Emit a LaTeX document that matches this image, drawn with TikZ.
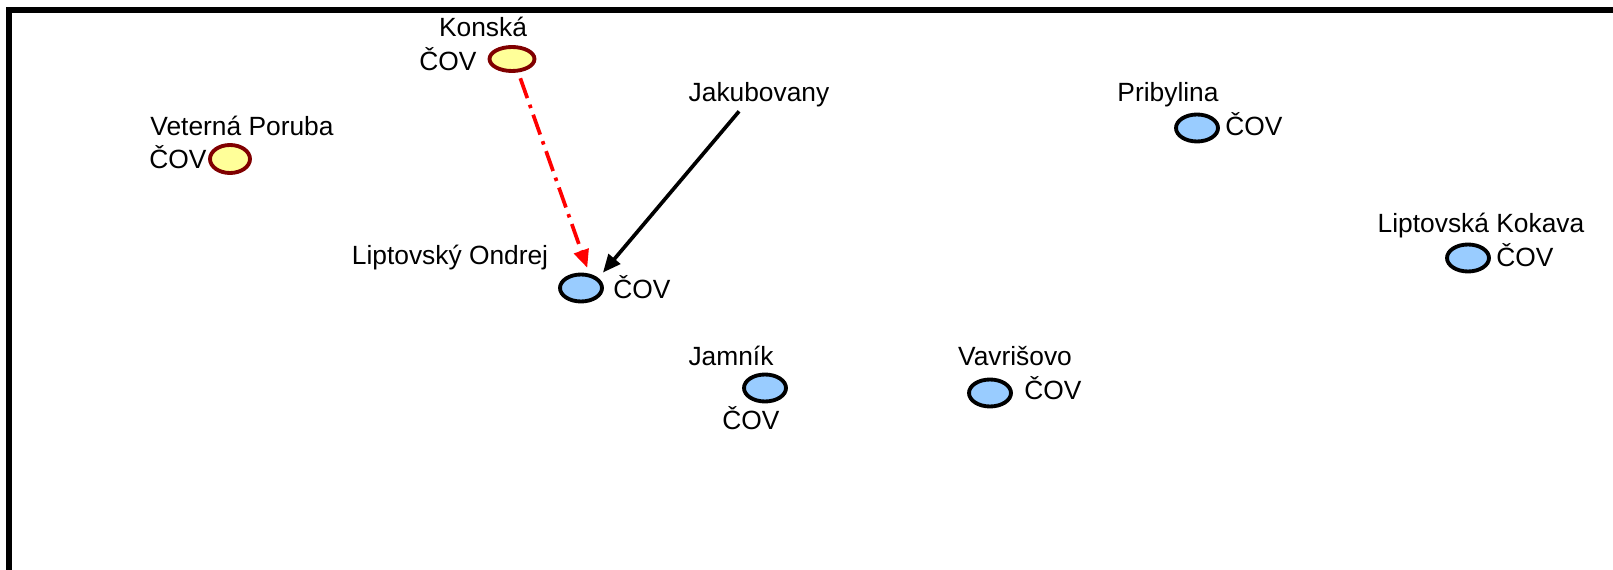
\documentclass[tikz,border=0pt]{standalone}
\usepackage{fontspec}
\setmainfont{Liberation Sans}
\usepackage{tikz}
\usetikzlibrary{shapes.geometric,arrows.meta}
\definecolor{covblue}{HTML}{99CCFF}
\definecolor{covyellow}{HTML}{FFFF99}
\definecolor{covrim}{HTML}{800000}
\tikzset{
  obec/.style={anchor=base,inner sep=2pt,font=\fontsize{15}{18}\selectfont},
  cov/.style={ellipse,draw=black,line width=2.2pt,fill=covblue,minimum width=0.84cm,minimum height=0.54cm,inner sep=0pt},
  covnew/.style={cov,draw=covrim,fill=covyellow},
  tok/.style={line width=2.1pt,-{Triangle[length=0.36cm,width=0.3cm]}},
}
\begin{document}
\begin{tikzpicture}[x=0.02cm,y=-0.02cm]
%\draw[help lines,step=100](0,0)grid(1613,570);
\useasboundingbox (0,0) rectangle (1613,570);
\draw[line width=0.12cm](9,600)--(9,10)--(1640,10);

\node[covnew,minimum width=0.9cm,minimum height=0.48cm] (konska) at (512,59) {};
\node[obec] (konska-m) at (483,37) {Konská};
\node[obec] (konska-c) at (448,71) {ČOV};

\node[covnew,minimum width=0.8cm,minimum height=0.56cm] (veterna) at (230,159) {};
\node[obec] (veterna-m) at (242,136) {Veterná Poruba};
\node[obec] (veterna-c) at (178,169) {ČOV};

\node[obec] (jakub) at (759,102) {Jakubovany};

\node[cov] (ondrej) at (581,288) {};
\node[obec] (ondrej-m) at (450,265) {Liptovský Ondrej};
\node[obec] (ondrej-c) at (642,299) {ČOV};

\node[cov] (jamnik) at (765,388) {};
\node[obec] (jamnik-m) at (731,366) {Jamník};
\node[obec] (jamnik-c) at (751,430) {ČOV};

\node[cov] (vavrisovo) at (990,393) {};
\node[obec] (vavrisovo-m) at (1015,366) {Vavrišovo};
\node[obec] (vavrisovo-c) at (1053,400) {ČOV};

\node[cov] (pribylina) at (1197,128) {};
\node[obec] (pribylina-m) at (1168,102) {Pribylina};
\node[obec] (pribylina-c) at (1254,136) {ČOV};

\node[cov] (kokava) at (1468,258) {};
\node[obec] (kokava-m) at (1481,233) {Liptovská Kokava};
\node[obec] (kokava-c) at (1525,267) {ČOV};

\draw[tok,red,dash pattern=on 12pt off 4pt on 2pt off 4pt,shorten <=3.5pt,shorten >=3.5pt](konska.-65)--(ondrej.60);
\draw[tok,shorten >=4pt](jakub.-141)--(ondrej.30);

\end{tikzpicture}
\end{document}
